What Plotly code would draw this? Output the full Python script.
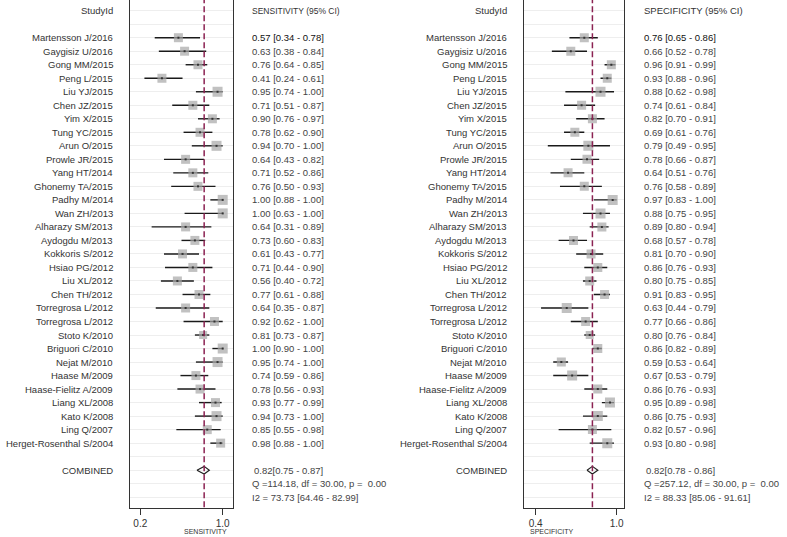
import plotly.graph_objects as go

# Study labels and estimates
studies = [
    'Martensson J/2016', 'Gaygisiz U/2016', 'Gong MM/2015', 'Peng L/2015',
    'Liu YJ/2015', 'Chen JZ/2015', 'Yim X/2015', 'Tung YC/2015',
    'Arun O/2015', 'Prowle JR/2015', 'Yang HT/2014', 'Ghonemy TA/2015',
    'Padhy M/2014', 'Wan ZH/2013', 'Alharazy SM/2013', 'Aydogdu M/2013',
    'Kokkoris S/2012', 'Hsiao PG/2012', 'Liu XL/2012', 'Chen TH/2012',
    'Torregrosa L/2012', 'Torregrosa L/2012', 'Stoto K/2010', 'Briguori C/2010',
    'Nejat M/2010', 'Haase M/2009', 'Haase-Fielitz A/2009', 'Liang XL/2008',
    'Kato K/2008', 'Ling Q/2007', 'Herget-Rosenthal S/2004',
]

sens = [0.57, 0.63, 0.76, 0.41, 0.95, 0.71, 0.90, 0.78, 0.94, 0.64, 0.71,
        0.76, 1.00, 1.00, 0.64, 0.73, 0.61, 0.71, 0.56, 0.77, 0.64, 0.92,
        0.81, 1.00, 0.95, 0.74, 0.78, 0.93, 0.94, 0.85, 0.98]
sens_lo = [0.34, 0.38, 0.64, 0.24, 0.74, 0.51, 0.76, 0.62, 0.70, 0.43, 0.52,
           0.50, 0.88, 0.63, 0.31, 0.60, 0.43, 0.44, 0.40, 0.61, 0.35, 0.62,
           0.73, 0.90, 0.74, 0.59, 0.56, 0.77, 0.73, 0.55, 0.88]
sens_hi = [0.78, 0.84, 0.85, 0.61, 1.00, 0.87, 0.97, 0.90, 1.00, 0.82, 0.86,
           0.93, 1.00, 1.00, 0.89, 0.83, 0.77, 0.90, 0.72, 0.88, 0.87, 1.00,
           0.87, 1.00, 1.00, 0.86, 0.93, 0.99, 1.00, 0.98, 1.00]

spec = [0.76, 0.66, 0.96, 0.93, 0.88, 0.74, 0.82, 0.69, 0.79, 0.78, 0.64,
        0.76, 0.97, 0.88, 0.89, 0.68, 0.81, 0.86, 0.80, 0.91, 0.63, 0.77,
        0.80, 0.86, 0.59, 0.67, 0.86, 0.95, 0.86, 0.82, 0.93]
spec_lo = [0.65, 0.52, 0.91, 0.88, 0.62, 0.61, 0.70, 0.61, 0.49, 0.66, 0.51,
           0.58, 0.83, 0.75, 0.80, 0.57, 0.70, 0.76, 0.75, 0.83, 0.44, 0.66,
           0.76, 0.82, 0.53, 0.53, 0.76, 0.89, 0.75, 0.57, 0.80]
spec_hi = [0.86, 0.78, 0.99, 0.96, 0.98, 0.84, 0.91, 0.76, 0.95, 0.87, 0.76,
           0.89, 1.00, 0.95, 0.94, 0.78, 0.90, 0.93, 0.85, 0.95, 0.79, 0.86,
           0.84, 0.89, 0.64, 0.79, 0.93, 0.98, 0.93, 0.96, 0.98]

# box sizes (study weights, px)
sens_w = [8, 8, 8, 8, 9, 8, 8, 8, 9, 8, 8, 8, 9, 9, 8, 8, 8, 8, 8, 8, 8, 8,
          7, 9, 9, 8, 8, 8, 9, 8, 8]
spec_w = [8, 8, 8, 8, 9, 8, 8, 8, 9, 8, 8, 8, 9, 9, 8, 8, 8, 8, 8, 8, 9, 8,
          7, 8, 8, 9, 8, 9, 9, 8, 9]

pooled_sens = (0.82, 0.75, 0.87)
pooled_spec = (0.82, 0.78, 0.86)
sens_stats = ['Q =114.18, df = 30.00, p =  0.00', 'I2 = 73.73 [64.46 - 82.99]']
spec_stats = ['Q =257.12, df = 30.00, p =  0.00', 'I2 = 88.33 [85.06 - 91.61]']

W, H = 787, 537
FONT = 'Liberation Sans, Arial, sans-serif'
rows = list(range(len(studies)))
comb_row = len(studies) + 1

fig = go.Figure()


def add_panel(est, lo, hi, w, pooled, xa, ya):
    # confidence intervals
    xs, ys = [], []
    for r, a, b in zip(rows, lo, hi):
        xs += [a, b, None]
        ys += [r, r, None]
    fig.add_trace(go.Scatter(x=xs, y=ys, mode='lines',
                             line=dict(color='#1a1a1a', width=1.4),
                             xaxis=xa, yaxis=ya, hoverinfo='skip'))
    # weighted boxes
    fig.add_trace(go.Scatter(x=est, y=rows, mode='markers',
                             marker=dict(symbol='square', size=[s + 1 for s in w],
                                         color='#a6a6a6', line=dict(width=0)),
                             xaxis=xa, yaxis=ya))
    fig.add_trace(go.Scatter(x=est, y=rows, mode='markers',
                             marker=dict(symbol='square', size=2, color='#333333'),
                             xaxis=xa, yaxis=ya))
    # pooled diamond
    p, plo, phi = pooled
    fig.add_trace(go.Scatter(
        x=[plo, p, phi, p, plo],
        y=[comb_row, comb_row - 0.28, comb_row, comb_row + 0.28, comb_row],
        mode='lines', line=dict(color='#222222', width=1.2),
        xaxis=xa, yaxis=ya))
    # pooled reference line
    fig.add_trace(go.Scatter(
        x=[p, p], y=[-3, 36], mode='lines',
        line=dict(color='#8b2252', width=1.5, dash='6px,3px'),
        xaxis=xa, yaxis=ya))


add_panel(sens, sens_lo, sens_hi, sens_w, pooled_sens, 'x', 'y')
add_panel(spec, spec_lo, spec_hi, spec_w, pooled_spec, 'x2', 'y2')


def add_text(px_x, row, text, anchor, size=9.5, color='#333333'):
    fig.add_annotation(x=px_x / W, y=row, xref='paper', yref='y', text=text,
                       showarrow=False, xanchor=anchor, yanchor='middle',
                       font=dict(family=FONT, size=size, color=color))


def add_columns(lbl_x, col_x, header, est, lo, hi, pooled, stats, hdr_size):
    add_text(lbl_x, -2, 'StudyId', 'right')
    add_text(col_x, -2, header, 'left', size=hdr_size)
    for r, s in enumerate(studies):
        add_text(lbl_x, r, s, 'right')
        txt = f'{est[r]:.2f} [{lo[r]:.2f} - {hi[r]:.2f}]'
        add_text(col_x, r, txt, 'left', color='#111111' if r == 0 else '#444444')
    add_text(lbl_x, comb_row, 'COMBINED', 'right')
    p, plo, phi = pooled
    add_text(col_x + 2, comb_row, f'{p:.2f}[{plo:.2f} - {phi:.2f}]', 'left',
             color='#444444')
    add_text(col_x, comb_row + 1, stats[0], 'left', color='#444444')
    add_text(col_x, comb_row + 2, stats[1], 'left', color='#444444')


add_columns(115, 250, 'SENSITIVITY (95% CI)', sens, sens_lo, sens_hi,
            pooled_sens, sens_stats, 8.5)
add_columns(509, 642, 'SPECIFICITY (95% CI)', spec, spec_lo, spec_hi,
            pooled_spec, spec_stats, 9.5)

# axis titles
fig.add_annotation(x=182 / W, y=(H - 531) / H, xref='paper', yref='paper',
                   text='SENSITIVITY', showarrow=False, yanchor='middle',
                   font=dict(family=FONT, size=7, color='#333333'))
fig.add_annotation(x=576 / W, y=(H - 531) / H, xref='paper', yref='paper',
                   text='SPECIFICITY', showarrow=False, yanchor='middle',
                   font=dict(family=FONT, size=7, color='#333333'))

ydom = [(H - 508) / H, 1.0]
yax = dict(domain=ydom, range=[34.8, -2.79], showticklabels=False,
           showgrid=True, gridcolor='#eeeeee', gridwidth=1, dtick=1, tick0=0,
           zeroline=False, showline=True, linecolor='#333333', linewidth=1.3,
           mirror=True, ticks='')
xax = dict(showgrid=False, zeroline=False, showline=True, linecolor='#333333',
           linewidth=1.3, ticks='outside', ticklen=6, tickcolor='#333333',
           tickfont=dict(family=FONT, size=10, color='#333333'))

fig.update_layout(
    width=W, height=H,
    margin=dict(l=0, r=0, t=0, b=0),
    paper_bgcolor='white', plot_bgcolor='white',
    showlegend=False,
    xaxis=dict(xax, domain=[130 / W, 233 / W], range=[0.1, 1.1],
               tickvals=[0.2, 1.0], ticktext=['0.2', '1.0']),
    yaxis=dict(yax),
    xaxis2=dict(xax, domain=[524.3 / W, 624.3 / W], range=[0.316, 1.056],
                tickvals=[0.4, 1.0], ticktext=['0.4', '1.0'], anchor='y2'),
    yaxis2=dict(yax, anchor='x2'),
)

# remove the page's default body margin so the figure sits at the top-left
fig.write_html('out.html', config={'displayModeBar': False},
               post_script="document.body.style.margin='0';")
